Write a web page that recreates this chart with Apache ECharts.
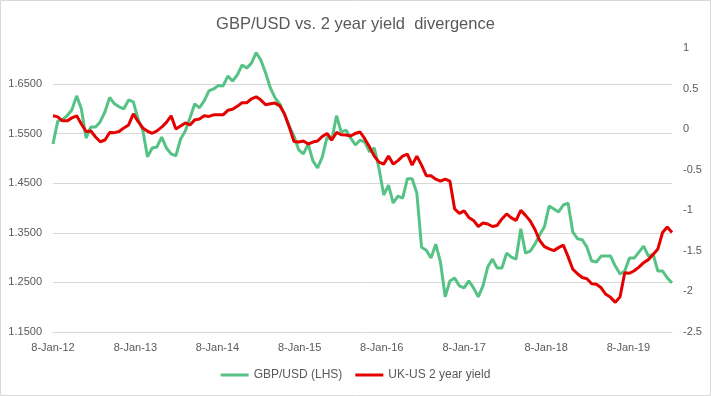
<!DOCTYPE html>
<html>
<head>
<meta charset="utf-8">
<script src="https://cdn.jsdelivr.net/npm/echarts@6/dist/echarts.min.js"></script>
<style>
html,body{margin:0;padding:0;background:#fff;}
#chart{width:711px;height:396px;}
</style>
</head>
<body>
<div id="chart"></div>
<script>
// ---- data, one value every 3 weeks ----
const startDate = '2012-01-08';
const stepDays = 21;
const endDate = '2019-07-21';

const gbpUsd = [
1.529,1.575,1.578,1.586,1.598,1.626,1.600,1.541,1.563,1.563,
1.574,1.594,1.623,1.610,1.604,1.600,1.618,1.614,1.579,1.557,
1.503,1.521,1.523,1.543,1.521,1.509,1.505,1.539,1.555,1.582,
1.610,1.602,1.616,1.636,1.640,1.647,1.646,1.666,1.656,1.668,
1.688,1.682,1.692,1.713,1.698,1.672,1.642,1.622,1.610,1.588,
1.565,1.545,1.517,1.509,1.529,1.495,1.481,1.503,1.543,1.537,
1.586,1.553,1.557,1.541,1.527,1.537,1.533,1.513,1.521,1.479,
1.426,1.446,1.410,1.424,1.420,1.459,1.459,1.430,1.321,1.315,
1.299,1.327,1.291,1.221,1.253,1.259,1.243,1.239,1.253,1.239,
1.221,1.243,1.281,1.297,1.279,1.279,1.309,1.301,1.297,1.358,
1.309,1.313,1.327,1.346,1.362,1.404,1.398,1.392,1.406,1.410,
1.352,1.338,1.336,1.321,1.293,1.291,1.303,1.303,1.303,1.283,
1.267,1.273,1.299,1.299,1.311,1.323,1.303,1.307,1.273,1.273,
1.259,1.249
];

const ukUsSpread = [
0.164,0.151,0.102,0.102,0.139,0.164,0.064,-0.029,-0.022,-0.097,
-0.155,-0.134,-0.041,-0.043,-0.029,0.015,0.052,0.188,0.095,0.015,
-0.026,-0.051,-0.022,0.024,0.083,0.164,0.002,0.040,0.077,0.052,
0.114,0.126,0.164,0.157,0.176,0.176,0.176,0.232,0.244,0.281,
0.325,0.325,0.374,0.399,0.358,0.300,0.312,0.321,0.287,0.188,
0.027,-0.152,-0.159,-0.146,-0.183,-0.159,-0.146,-0.090,-0.053,-0.134,
-0.041,-0.069,-0.072,-0.084,-0.053,-0.035,-0.121,-0.221,-0.332,-0.406,
-0.431,-0.332,-0.431,-0.388,-0.332,-0.307,-0.444,-0.332,-0.444,-0.574,
-0.574,-0.617,-0.642,-0.617,-0.642,-0.983,-1.038,-1.007,-1.088,-1.125,
-1.200,-1.156,-1.169,-1.200,-1.187,-1.107,-1.045,-1.094,-1.125,-1.001,
-1.063,-1.131,-1.237,-1.373,-1.447,-1.476,-1.497,-1.460,-1.429,-1.571,
-1.726,-1.782,-1.828,-1.844,-1.906,-1.912,-1.955,-2.036,-2.073,-2.135,
-2.067,-1.770,-1.776,-1.745,-1.701,-1.646,-1.608,-1.546,-1.478,-1.274,
-1.206,-1.274
];

const tickDates = ['2012-01-08','2013-01-08','2014-01-08','2015-01-08','2016-01-08','2017-01-08','2018-01-08','2019-01-08'];
const tickLabels = ['8-Jan-12','8-Jan-13','8-Jan-14','8-Jan-15','8-Jan-16','8-Jan-17','8-Jan-18','8-Jan-19'];

const seriesNames = ['GBP/USD (LHS)', 'UK-US 2 year yield'];
const titleText = 'GBP/USD vs. 2 year yield  divergence';

// ---- build ----
function ts(s){ const p = s.split('-').map(Number); return Date.UTC(p[0], p[1]-1, p[2]); }
const DAY = 86400000;
const t0 = ts(startDate);
const dates = gbpUsd.map((_, i) => t0 + i * stepDays * DAY);
const tickTs = tickDates.map(ts);

const FONT = 'Liberation Sans';
const GREY = '#595959';

const chart = echarts.init(document.getElementById('chart'), null, {renderer: 'canvas'});
chart.setOption({
  animation: false,
  backgroundColor: '#ffffff',
  textStyle: {fontFamily: FONT},
  title: {
    text: titleText,
    left: 'center',
    top: 11,
    textStyle: {fontFamily: FONT, fontSize: 16.5, fontWeight: 'normal', color: GREY}
  },
  graphic: [{
    type: 'rect', silent: true, z: -1,
    shape: {x: 0.5, y: 0.5, width: 710, height: 395},
    style: {fill: 'none', stroke: '#d9d9d9', lineWidth: 1}
  }],
  legend: {
    left: 'center',
    top: 364,
    itemWidth: 28,
    itemHeight: 3,
    itemGap: 13,
    icon: 'rect',
    textStyle: {fontFamily: FONT, fontSize: 12, color: GREY},
    data: seriesNames
  },
  grid: {left: 53, right: 39, top: 48, bottom: 64, containLabel: false},
  xAxis: {
    type: 'value',
    min: t0,
    max: ts(endDate),
    scale: true,
    splitLine: {show: false},
    axisTick: {show: false},
    axisLine: {onZero: false, lineStyle: {color: '#d9d9d9'}},
    axisLabel: {
      customValues: tickTs,
      margin: 10,
      fontFamily: FONT, fontSize: 11, color: GREY,
      hideOverlap: false,
      formatter: function (v) {
        let best = 0, bd = Infinity;
        tickTs.forEach((t, i) => { const d = Math.abs(t - v); if (d < bd) { bd = d; best = i; } });
        return tickLabels[best];
      }
    }
  },
  yAxis: [{
    type: 'value',
    min: 1.15,
    max: 1.7225,
    interval: 0.05,
    axisLine: {show: false},
    axisTick: {show: false},
    splitLine: {show: true, showMaxLine: false, lineStyle: {color: ['#d9d9d9', 'rgba(0,0,0,0)'], width: 1}},
    axisLabel: {
      margin: 11, fontFamily: FONT, fontSize: 11, color: GREY,
      showMaxLabel: false,
      formatter: function (v) {
        const c = Math.round(v * 100);
        return (c % 10 === 5) ? v.toFixed(4) : '';
      }
    }
  }, {
    type: 'value',
    position: 'right',
    min: -2.5,
    max: 1,
    interval: 0.5,
    axisLine: {show: false},
    axisTick: {show: false},
    splitLine: {show: false},
    axisLabel: {margin: 11, fontFamily: FONT, fontSize: 11, color: GREY}
  }],
  series: [{
    name: seriesNames[0],
    type: 'line',
    yAxisIndex: 0,
    showSymbol: false,
    symbol: 'none',
    clip: false,
    lineStyle: {color: '#57c285', width: 3},
    itemStyle: {color: '#57c285'},
    data: dates.map((d, i) => [d, gbpUsd[i]])
  }, {
    name: seriesNames[1],
    type: 'line',
    yAxisIndex: 1,
    showSymbol: false,
    symbol: 'none',
    clip: false,
    lineStyle: {color: '#e50000', width: 3},
    itemStyle: {color: '#e50000'},
    data: dates.map((d, i) => [d, ukUsSpread[i]])
  }]
});
</script>
</body>
</html>
